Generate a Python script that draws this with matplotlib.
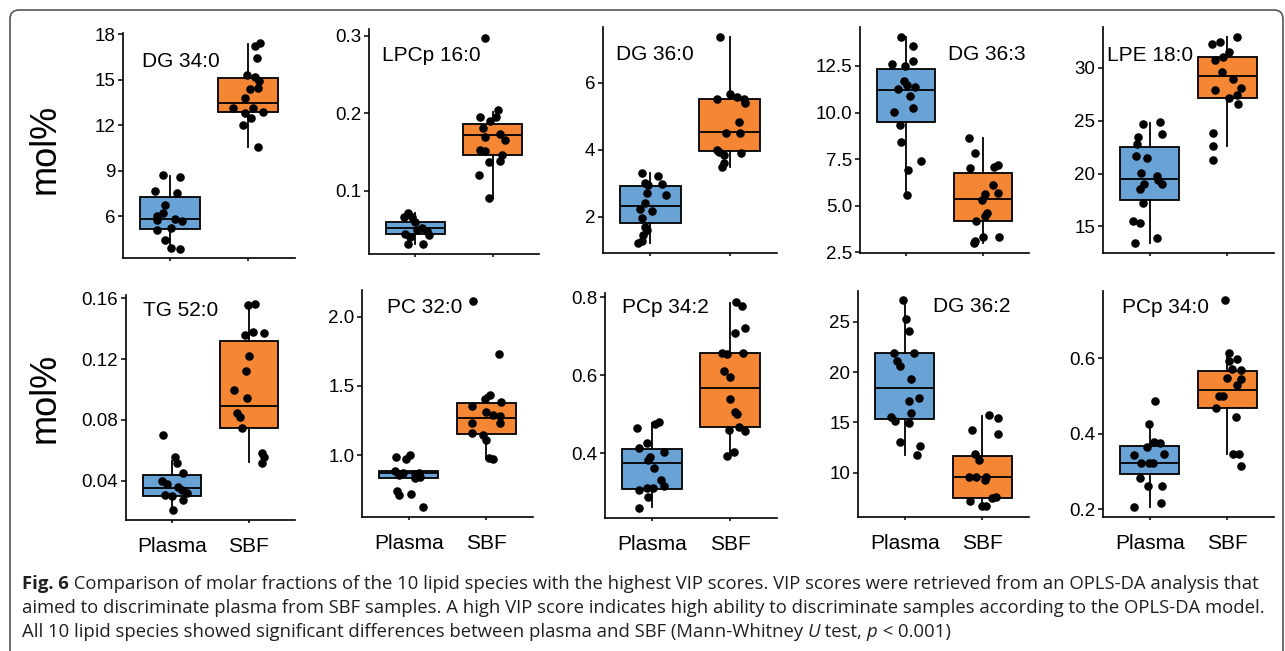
import matplotlib
matplotlib.use('Agg')
import matplotlib.pyplot as plt
from matplotlib.patches import FancyBboxPatch

plt.rcParams['font.family'] = ['Liberation Sans', 'DejaVu Sans']

W, H = 1285, 651

groups = ['Plasma', 'SBF']

# points are (jitter offset, mol%)
# box stats are [whisker low, q1, median, q3, whisker high]
dg340_pl = [(-0.085, 8.70), (0.13, 8.59), (-0.19, 7.65), (0.085, 7.54), (-0.06, 6.73), (-0.085, 6.18),
            (-0.17, 6.00), (0.06, 5.78), (0.16, 5.69), (-0.17, 5.74), (-0.17, 5.08), (0.02, 5.23),
            (-0.06, 4.42), (0.02, 3.87), (0.13, 3.80)]
dg340_sbf = [(0.15, 17.38), (0.085, 17.21), (0.11, 16.40), (-0.02, 15.30), (0.085, 15.14), (0.14, 14.92),
             (0.13, 14.42), (0.02, 14.35), (-0.04, 13.76), (-0.19, 13.14), (0.06, 13.14), (-0.04, 12.77),
             (0.19, 12.86), (0.04, 12.44), (-0.06, 12.00), (0.13, 10.57)]
dg340_box_pl = [3.80, 5.12, 5.78, 7.25, 8.64]
dg340_box_sbf = [10.57, 12.86, 13.45, 15.08, 17.34]

lpcp160_pl = [(-0.09, 0.071), (-0.05, 0.067), (-0.15, 0.066), (0.0, 0.060), (0.02, 0.050), (0.08, 0.052),
              (0.15, 0.048), (0.17, 0.043), (-0.13, 0.045), (-0.07, 0.041), (-0.09, 0.032), (0.10, 0.031)]
lpcp160_sbf = [(-0.10, 0.297), (0.07, 0.2045), (0.05, 0.196), (-0.16, 0.195), (-0.03, 0.190), (-0.12, 0.181),
               (-0.10, 0.170), (0.09, 0.173), (0.16, 0.166), (-0.16, 0.153), (-0.10, 0.151), (0.12, 0.146),
               (-0.05, 0.138), (0.09, 0.139), (-0.18, 0.121), (-0.05, 0.091)]
lpcp160_box_pl = [0.031, 0.0445, 0.0527, 0.0604, 0.071]
lpcp160_box_sbf = [0.091, 0.146, 0.172, 0.187, 0.2024]

dg360_pl = [(-0.11, 3.31), (0.10, 3.21), (-0.07, 3.00), (0.14, 2.97), (-0.03, 2.95), (-0.05, 2.72),
            (0.20, 2.65), (-0.07, 2.40), (-0.13, 2.22), (0.015, 2.17), (-0.11, 1.95), (-0.07, 1.70),
            (-0.04, 1.60), (-0.09, 1.45), (-0.11, 1.28), (-0.16, 1.22)]
dg360_sbf = [(-0.12, 7.37), (-0.16, 5.50), (0.005, 5.65), (0.10, 5.58), (0.18, 5.51), (0.20, 5.38),
             (0.12, 4.82), (-0.05, 4.51), (0.13, 4.49), (-0.16, 3.99), (-0.13, 3.94), (-0.07, 3.84),
             (0.15, 3.89), (-0.07, 3.59), (-0.09, 3.49)]
dg360_box_pl = [1.22, 1.82, 2.32, 2.90, 3.29]
dg360_box_sbf = [3.49, 3.97, 4.52, 5.50, 7.35]

dg363_pl = [(-0.065, 14.07), (0.095, 13.59), (-0.18, 12.61), (-0.01, 12.52), (0.09, 12.77), (-0.03, 11.71),
            (-0.10, 11.27), (0.01, 11.48), (0.12, 11.36), (0.05, 10.91), (-0.16, 10.05), (0.09, 10.23),
            (-0.08, 9.33), (-0.065, 8.44), (0.19, 7.40), (0.03, 6.92), (0.01, 5.58)]
dg363_sbf = [(-0.18, 8.65), (-0.10, 7.85), (-0.17, 7.01), (0.14, 7.10), (0.20, 7.19), (0.13, 6.11),
             (0.19, 5.70), (0.03, 5.61), (-0.015, 5.31), (0.05, 4.59), (0.03, 4.45), (-0.09, 4.18),
             (0.0, 3.34), (0.21, 3.34), (-0.12, 3.02), (-0.10, 3.13)]
dg363_box_pl = [5.58, 9.48, 11.21, 12.32, 14.07]
dg363_box_sbf = [3.02, 4.20, 5.34, 6.78, 8.62]

lpe180_pl = [(-0.09, 24.68), (0.13, 24.90), (-0.145, 23.48), (0.155, 23.73), (-0.165, 22.79), (-0.18, 21.65),
             (-0.03, 21.43), (-0.11, 20.08), (0.09, 19.76), (0.11, 19.39), (0.155, 18.98), (-0.07, 18.98),
             (-0.12, 18.50), (-0.09, 17.24), (-0.21, 15.54), (-0.12, 15.35), (0.09, 13.94), (-0.19, 13.46)]
lpe180_sbf = [(0.12, 32.93), (-0.20, 32.24), (-0.095, 32.46), (0.025, 31.51), (-0.16, 30.72), (-0.05, 30.98),
              (-0.07, 29.62), (0.07, 28.93), (0.175, 28.11), (-0.16, 27.89), (0.025, 27.17), (0.12, 27.42),
              (0.14, 26.57), (-0.18, 23.80), (-0.18, 22.63), (-0.19, 21.28)]
lpe180_box_pl = [13.46, 17.50, 19.48, 22.54, 24.80]
lpe180_box_sbf = [22.63, 27.17, 29.21, 31.04, 32.87]

tg520_pl = [(-0.12, 0.070), (0.04, 0.0555), (0.06, 0.0518), (0.14, 0.0448), (-0.13, 0.0398), (-0.07, 0.0378),
            (0.08, 0.0360), (0.125, 0.0338), (0.19, 0.0316), (-0.09, 0.0306), (-0.005, 0.0299),
            (0.14, 0.0273), (0.016, 0.0207)]
tg520_sbf = [(-0.01, 0.1556), (0.08, 0.1563), (-0.05, 0.1359), (0.057, 0.1381), (0.19, 0.1370), (0.005, 0.1220),
             (-0.04, 0.1124), (-0.20, 0.0997), (-0.03, 0.0942), (-0.16, 0.0843), (-0.12, 0.0821),
             (-0.09, 0.0744), (0.17, 0.0584), (0.19, 0.0558), (0.17, 0.0518)]
tg520_box_pl = [0.0207, 0.0301, 0.0354, 0.0437, 0.0530]
tg520_box_sbf = [0.0525, 0.0744, 0.0893, 0.1321, 0.1556]

pc320_pl = [(-0.16, 0.988), (-0.03, 0.969), (0.02, 1.000), (-0.17, 0.887), (-0.07, 0.867), (0.08, 0.863),
            (0.13, 0.872), (0.15, 0.839), (0.08, 0.831), (-0.12, 0.855), (-0.15, 0.742), (-0.13, 0.711),
            (0.03, 0.718), (0.18, 0.627)]
pc320_sbf = [(-0.17, 2.116), (0.16, 1.730), (0.045, 1.434), (-0.02, 1.402), (0.19, 1.386), (-0.19, 1.354),
             (-0.007, 1.313), (0.087, 1.289), (0.17, 1.282), (-0.18, 1.234), (0.17, 1.234), (-0.19, 1.161),
             (-0.04, 1.145), (0.0, 1.108), (0.036, 0.976), (0.087, 0.969)]
pc320_box_pl = [0.831, 0.836, 0.867, 0.884, 0.887]
pc320_box_sbf = [0.969, 1.149, 1.270, 1.373, 1.434]

pcp342_pl = [(-0.19, 0.466), (0.04, 0.475), (0.085, 0.479), (-0.065, 0.427), (-0.17, 0.413), (0.15, 0.404),
             (-0.02, 0.390), (-0.045, 0.383), (0.03, 0.362), (0.115, 0.332), (0.15, 0.315), (0.02, 0.310),
             (-0.17, 0.306), (-0.065, 0.310), (-0.045, 0.289), (-0.17, 0.259)]
pcp342_sbf = [(0.08, 0.789), (0.15, 0.778), (0.19, 0.720), (0.057, 0.709), (-0.105, 0.656), (-0.04, 0.654),
              (0.16, 0.658), (-0.076, 0.612), (-0.007, 0.595), (-0.007, 0.538), (0.065, 0.507),
              (0.087, 0.501), (-0.02, 0.460), (0.12, 0.468), (0.19, 0.456), (0.053, 0.402), (-0.04, 0.393)]
pcp342_box_pl = [0.261, 0.308, 0.374, 0.410, 0.477]
pcp342_box_sbf = [0.396, 0.467, 0.567, 0.656, 0.786]

dg362_pl = [(-0.02, 27.15), (0.023, 25.23), (0.058, 24.10), (-0.14, 21.92), (0.117, 21.85), (-0.10, 21.13),
            (-0.063, 20.60), (0.088, 19.30), (0.058, 17.15), (0.186, 17.38), (0.088, 15.96), (-0.17, 15.50),
            (-0.127, 15.17), (0.058, 14.90), (-0.054, 13.01), (0.195, 12.65), (0.16, 11.75)]
dg362_sbf = [(0.088, 15.73), (0.20, 15.40), (-0.13, 14.24), (0.20, 13.84), (-0.097, 11.85), (-0.04, 11.26),
             (-0.17, 9.60), (-0.084, 9.60), (0.03, 9.27), (0.05, 9.60), (0.12, 7.45), (0.18, 7.62),
             (-0.16, 7.22), (-0.01, 6.69), (0.05, 6.69)]
dg362_box_pl = [11.75, 15.30, 18.38, 21.85, 27.15]
dg362_box_sbf = [6.62, 7.52, 9.60, 11.66, 15.63]

pcp340_pl = [(0.074, 0.487), (-0.01, 0.426), (0.057, 0.379), (0.13, 0.375), (-0.04, 0.366), (-0.20, 0.344),
             (0.18, 0.347), (-0.106, 0.322), (0.044, 0.324), (-0.007, 0.322), (-0.12, 0.284), (-0.02, 0.263),
             (0.16, 0.263), (0.14, 0.218), (-0.20, 0.207)]
pcp340_sbf = [(-0.024, 0.753), (0.024, 0.615), (0.118, 0.598), (0.024, 0.594), (0.054, 0.571), (0.17, 0.569),
              (-0.01, 0.549), (0.18, 0.546), (0.127, 0.529), (-0.105, 0.501), (-0.054, 0.501),
              (-0.15, 0.469), (0.105, 0.445), (0.075, 0.348), (0.15, 0.347), (0.17, 0.315)]
pcp340_box_pl = [0.207, 0.2936, 0.3236, 0.3687, 0.426]
pcp340_box_sbf = [0.347, 0.469, 0.516, 0.567, 0.615]

# name, data, y ticks, ylim, axes box in pixels (left, right, top, bottom), label baseline position
panels = [
    ('DG 34:0', dg340_pl, dg340_sbf, dg340_box_pl, dg340_box_sbf,
     [6, 9, 12, 15, 18], ['6', '9', '12', '15', '18'], (3.23, 18.07), (123, 295, 33, 258), (142, 67)),
    ('LPCp 16:0', lpcp160_pl, lpcp160_sbf, lpcp160_box_pl, lpcp160_box_sbf,
     [0.1, 0.2, 0.3], ['0.1', '0.2', '0.3'], (0.0187, 0.309), (369, 539, 29, 254), (382, 61)),
    ('DG 36:0', dg360_pl, dg360_sbf, dg360_box_pl, dg360_box_sbf,
     [2, 4, 6], ['2', '4', '6'], (0.915, 7.66), (603, 777, 27, 253), (616, 60)),
    ('DG 36:3', dg363_pl, dg363_sbf, dg363_box_pl, dg363_box_sbf,
     [2.5, 5, 7.5, 10, 12.5], ['2.5', '5.0', '7.5', '10.0', '12.5'], (2.46, 14.59), (860, 1029, 27, 253), (948, 60)),
    ('LPE 18:0', lpe180_pl, lpe180_sbf, lpe180_box_pl, lpe180_box_sbf,
     [15, 20, 25, 30], ['15', '20', '25', '30'], (12.49, 33.84), (1103, 1274, 27, 253), (1107, 61)),
    ('TG 52:0', tg520_pl, tg520_sbf, tg520_box_pl, tg520_box_sbf,
     [0.04, 0.08, 0.12, 0.16], ['0.04', '0.08', '0.12', '0.16'], (0.0141, 0.1622), (126, 295, 295, 520), (143, 316)),
    ('PC 32:0', pc320_pl, pc320_sbf, pc320_box_pl, pc320_box_sbf,
     [1.0, 1.5, 2.0], ['1.0', '1.5', '2.0'], (0.552, 2.193), (362, 533, 290, 517), (387, 313)),
    ('PCp 34:2', pcp342_pl, pcp342_sbf, pcp342_box_pl, pcp342_box_sbf,
     [0.4, 0.6, 0.8], ['0.4', '0.6', '0.8'], (0.234, 0.811), (605, 777, 293, 518), (622, 313)),
    ('DG 36:2', dg362_pl, dg362_sbf, dg362_box_pl, dg362_box_sbf,
     [10, 15, 20, 25], ['10', '15', '20', '25'], (5.6, 28.05), (858, 1029, 291, 517), (933, 312)),
    ('PCp 34:0', pcp340_pl, pcp340_sbf, pcp340_box_pl, pcp340_box_sbf,
     [0.2, 0.4, 0.6], ['0.2', '0.4', '0.6'], (0.180, 0.778), (1103, 1274, 291, 517), (1122, 313)),
]

colors = ['#69a3d6', '#f58634']

fig = plt.figure(figsize=(W / 100, H / 100), dpi=100)

# background layer in pixel coordinates (y downwards)
bg = fig.add_axes([0, 0, 1, 1])
bg.set_xlim(0, W)
bg.set_ylim(H, 0)
bg.axis('off')
bg.add_patch(FancyBboxPatch((10, 10), 1273, 680, boxstyle='round,pad=0,rounding_size=9',
                            facecolor='none', edgecolor='#555555', linewidth=1.2))

for i, (name, pl, sbf, bpl, bsbf, ticks, tlabels, ylim, box, lab) in enumerate(panels):
    l, r, t, b = box
    ax = fig.add_axes([l / W, 1 - b / H, (r - l) / W, (b - t) / H])
    ax.patch.set_visible(False)
    stats = []
    for s in (bpl, bsbf):
        stats.append({'whislo': s[0], 'q1': s[1], 'med': s[2], 'q3': s[3], 'whishi': s[4], 'fliers': []})
    bp = ax.bxp(stats, positions=[1, 2], widths=0.76, patch_artist=True, showcaps=False, showfliers=False,
                boxprops=dict(linewidth=1.3, edgecolor='black'),
                medianprops=dict(color='black', linewidth=1.3),
                whiskerprops=dict(color='black', linewidth=1.3))
    for patch, c in zip(bp['boxes'], colors):
        patch.set_facecolor(c)
    for k, pts in enumerate((pl, sbf)):
        xs = [k + 1 + p[0] for p in pts]
        ys = [p[1] for p in pts]
        ax.scatter(xs, ys, s=38, color='black', zorder=3, linewidths=0)
    ax.set_xlim(0.4, 2.6)
    ax.set_ylim(*ylim)
    ax.set_yticks(ticks)
    ax.set_yticklabels(tlabels)
    ax.set_xticks([1, 2])
    if i >= 5:
        ax.set_xticklabels(groups)
    else:
        ax.set_xticklabels([])
    for sp in ['top', 'right']:
        ax.spines[sp].set_visible(False)
    for sp in ['left', 'bottom']:
        ax.spines[sp].set_linewidth(1.2)
    ax.tick_params(axis='y', length=3.5, width=1.1, labelsize=13.5, pad=2, colors='black')
    ax.tick_params(axis='x', length=2.5, width=1.1, labelsize=15, pad=10, colors='black')
    bg.text(lab[0], lab[1], name, fontsize=15, va='baseline', ha='left', color='black')

bg.text(45, 149, 'mol%', fontsize=26, rotation=90, ha='center', va='center')
bg.text(45, 398, 'mol%', fontsize=26, rotation=90, ha='center', va='center')

# caption
cap_font = ['Open Sans', 'DejaVu Sans']
cap_color = '#231f20'
cap_size = 13.3
renderer = fig.canvas.get_renderer()


def caption_line(x, y, pieces):
    for s, weight, style in pieces:
        tx = bg.text(x, y, s, fontsize=cap_size, family=cap_font, fontweight=weight, fontstyle=style,
                     color=cap_color, va='baseline', ha='left')
        ext = tx.get_window_extent(renderer)
        x += ext.width


caption_line(22, 589, [('Fig. 6', 'bold', 'normal'),
                       (' Comparison of molar fractions of the 10 lipid species with the highest VIP scores. '
                        'VIP scores were retrieved from an OPLS-DA analysis that', 'normal', 'normal')])
caption_line(22, 613, [('aimed to discriminate plasma from SBF samples. A high VIP score indicates high ability '
                        'to discriminate samples according to the OPLS-DA model.', 'normal', 'normal')])
caption_line(22, 637, [('All 10 lipid species showed significant differences between plasma and SBF (Mann-Whitney ',
                        'normal', 'normal'),
                       ('U', 'normal', 'italic'), (' test, ', 'normal', 'normal'),
                       ('p', 'normal', 'italic'), (' < 0.001)', 'normal', 'normal')])

fig.savefig('out.png', dpi=100)
